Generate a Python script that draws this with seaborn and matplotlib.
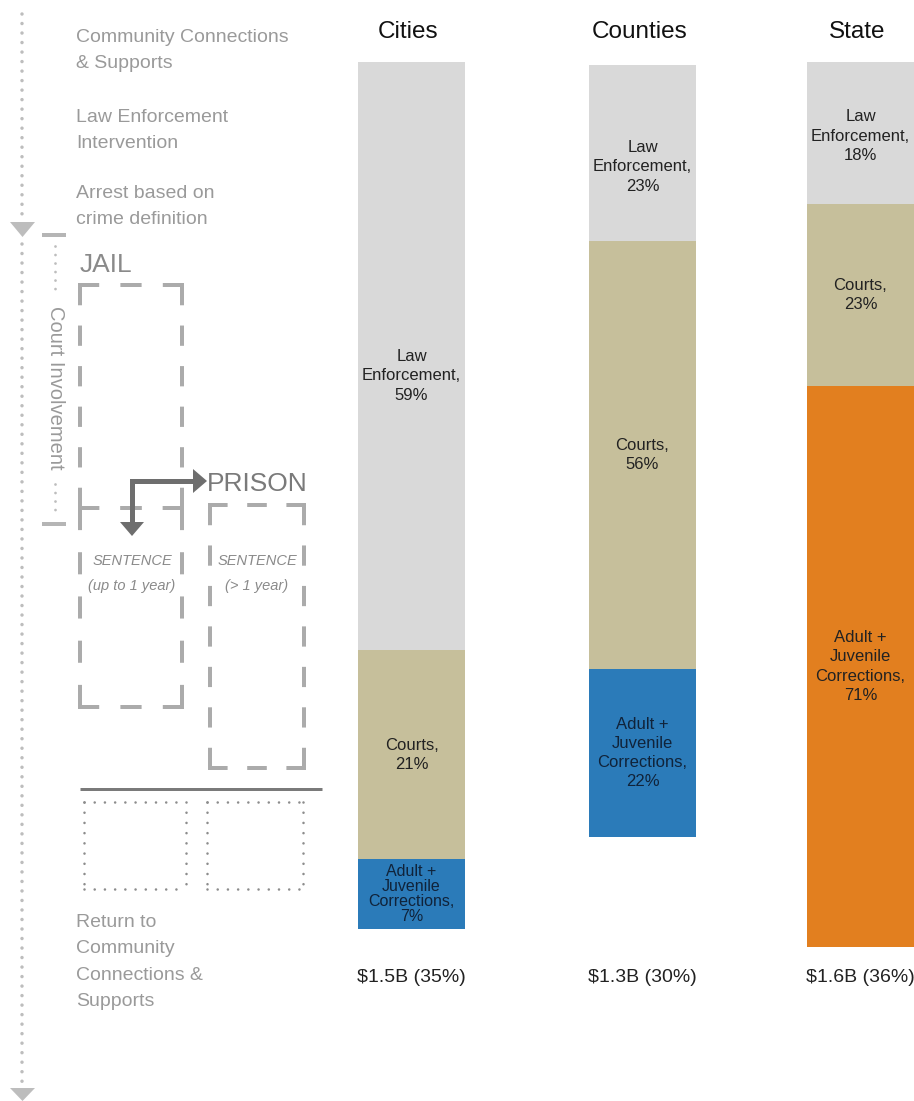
import numpy as np
import pandas as pd
import matplotlib
matplotlib.use("Agg")
import matplotlib.pyplot as plt
from matplotlib.patches import Polygon
import seaborn as sns

# --- data ---
levels = ["Cities", "Counties", "State"]
spend_labels = ["$1.5B (35%)", "$1.3B (30%)", "$1.6B (36%)"]
law_enforcement = [59, 23, 18]
courts = [21, 56, 23]
corrections = [7, 22, 71]

segment_names = ["Law\nEnforcement,", "Courts,", "Adult +\nJuvenile\nCorrections,"]

flow_top = [
    ["Community Connections", "& Supports"],
    ["Law Enforcement", "Intervention"],
    ["Arrest based on", "crime definition"],
]
flow_bottom = ["Return to", "Community", "Connections &", "Supports"]

# --- style ---
LE_COLOR = "#d9d9d9"
COURT_COLOR = "#c6bf9b"
CORR_COLORS = ["#2b7bb9", "#2b7bb9", "#e27f1f"]
GREY_TEXT = "#9a9a9a"
DASH_GREY = "#ababab"

W, H = 914, 1101
# bar panels in pixel coords: x0, y_top, x1, y_bottom
bar_boxes = [(358, 62, 465, 929), (589, 65, 696, 837), (807, 62, 914, 947)]
# the law enforcement labels sit a little below the segment centre
le_label_shift = [20, 14, 3]

sns.set_theme(style="white")
plt.rcParams["font.family"] = ["Liberation Sans", "DejaVu Sans"]
plt.rcParams["lines.scale_dashes"] = False

fig = plt.figure(figsize=(W / 100, H / 100), dpi=100)

# overlay axes in pixel units for the flow diagram and text
ax0 = fig.add_axes([0, 0, 1, 1])
ax0.set_xlim(0, W)
ax0.set_ylim(H, 0)
ax0.axis("off")

PT = 0.72  # px -> pt at 100 dpi


def dashed_edge(p0, p1, dash=20, lw=4, color=DASH_GREY):
    length = np.hypot(p1[0] - p0[0], p1[1] - p0[1])
    n = max(2, int(round((length + dash) / (2 * dash))))
    d = length / (2 * n - 1)
    ax0.plot([p0[0], p1[0]], [p0[1], p1[1]], color=color, lw=lw * PT,
             linestyle=(0, (d * PT, d * PT)), dash_capstyle="butt",
             solid_capstyle="butt")


def dashed_box(x0, y0, x1, y1):
    dashed_edge((x0 - 2, y0), (x1 + 2, y0))
    dashed_edge((x0 - 2, y1), (x1 + 2, y1))
    dashed_edge((x0, y0), (x0, y1))
    dashed_edge((x1, y0), (x1, y1))


def dotted(p0, p1, spacing=9.5, size=3.5, color="#bdbdbd"):
    ax0.plot([p0[0], p1[0]], [p0[1], p1[1]], color=color, lw=size * PT,
             linestyle=(0, (0.01, spacing * PT)), dash_capstyle="round")


def dotted_box(x0, y0, x1, y1):
    for a, b in [((x0, y0), (x1, y0)), ((x0, y1), (x1, y1)),
                 ((x0, y0), (x0, y1)), ((x1, y0), (x1, y1))]:
        dotted(a, b, spacing=10.2, size=2.6, color="#8c8c8c")


def triangle(pts, color):
    ax0.add_patch(Polygon(pts, closed=True, color=color, lw=0))


# main timeline on the far left
dotted((22, 14), (22, 218))
triangle([(10, 222), (35, 222), (22.5, 237)], "#bdbdbd")
dotted((22, 244), (22, 1084))
triangle([(10, 1088), (35, 1088), (22.5, 1101)], "#bdbdbd")

# flow steps text
for block, y in zip(flow_top, [42, 122, 198]):
    for i, line in enumerate(block):
        ax0.text(76, y + i * 26, line, color=GREY_TEXT, fontsize=14, va="baseline")
for i, line in enumerate(flow_bottom):
    ax0.text(76, 927 + i * 26.3, line, color=GREY_TEXT, fontsize=14, va="baseline")

# court involvement bracket
ax0.plot([42, 66], [235, 235], color="#b5b5b5", lw=4 * PT, solid_capstyle="butt")
ax0.plot([42, 66], [524, 524], color="#b5b5b5", lw=4 * PT, solid_capstyle="butt")
dotted((55, 246), (55, 297), spacing=8.5, size=2.8)
dotted((55, 484), (55, 516), spacing=8.5, size=2.8)
ax0.text(55, 388, "Court Involvement", rotation=-90, color=GREY_TEXT,
         fontsize=14.5, ha="center", va="center")

# jail / prison boxes
ax0.text(80, 272, "JAIL", color="#8a8a8a", fontsize=19, va="baseline")
dashed_box(80, 285, 182, 508)
dashed_box(80, 508, 182, 707)
dashed_box(210, 505, 304, 768)
ax0.text(207, 491, "PRISON", color="#7a7a7a", fontsize=19, va="baseline")

ARROW = "#6e6e6e"
ax0.plot([132, 132, 195], [523, 481, 481], color=ARROW, lw=5 * PT,
         solid_joinstyle="miter", solid_capstyle="butt")
triangle([(120, 522), (144, 522), (132, 536)], ARROW)
triangle([(193, 469), (193, 493), (207, 481)], ARROW)

for cx, sub in [(132, "(up to 1 year)"), (257, "(> 1 year)")]:
    ax0.text(cx, 565, "SENTENCE", color="#8a8a8a", fontsize=10.5,
             style="italic", ha="center", va="baseline")
    ax0.text(cx, 590, sub, color="#8a8a8a", fontsize=10.5,
             style="italic", ha="center", va="baseline")

# release line and return boxes
ax0.plot([80, 322], [789, 789], color="#7a7a7a", lw=3 * PT, solid_capstyle="butt")
dotted_box(84, 802, 186, 889)
dotted_box(207, 802, 303, 889)

# --- stacked bars, one panel per level ---
for i, lvl in enumerate(levels):
    x0, y0, x1, y1 = bar_boxes[i]
    ax = fig.add_axes([x0 / W, 1 - y1 / H, (x1 - x0) / W, (y1 - y0) / H])
    df = pd.DataFrame({
        "level": [lvl],
        "corrections": [corrections[i]],
        "courts": [courts[i]],
        "law": [law_enforcement[i]],
    })
    df["courts_top"] = df["corrections"] + df["courts"]
    df["law_top"] = df["courts_top"] + df["law"]
    total = df["law_top"].iloc[0]

    sns.barplot(data=df, x="level", y="law_top", color=LE_COLOR, width=1,
                saturation=1, linewidth=0, ax=ax)
    sns.barplot(data=df, x="level", y="courts_top", color=COURT_COLOR, width=1,
                saturation=1, linewidth=0, ax=ax)
    sns.barplot(data=df, x="level", y="corrections", color=CORR_COLORS[i], width=1,
                saturation=1, linewidth=0, ax=ax)
    ax.set_xlim(-0.5, 0.5)
    ax.set_ylim(0, total)
    ax.axis("off")

    values = [law_enforcement[i], courts[i], corrections[i]]
    bottoms = [df["courts_top"].iloc[0], df["corrections"].iloc[0], 0]
    px_per_unit = (y1 - y0) / total
    shifts = [le_label_shift[i] / px_per_unit, 0, 0]
    for name, v, b, s in zip(segment_names, values, bottoms, shifts):
        label = f"{name}\n{v}%"
        txt_color = "#10233a" if name.startswith("Adult") and i < 2 else "#222222"
        ymid = b + v / 2 - s
        if v * px_per_unit < 90:
            ax.text(0, ymid, label, ha="center", va="center", fontsize=11.5,
                    linespacing=1.0, color=txt_color,
                    family=["Liberation Sans Narrow", "Liberation Sans", "DejaVu Sans"])
        else:
            ax.text(0, ymid, label, ha="center", va="center", fontsize=12,
                    linespacing=1.35, color=txt_color)

    cx = (x0 + x1) / 2
    ax0.text(cx - 3, 38, lvl, fontsize=17.5, color="#111111", ha="center", va="baseline")
    ax0.text(cx, 982, spend_labels[i], fontsize=14, color="#222222",
             ha="center", va="baseline")

fig.savefig("out.png", dpi=100)
